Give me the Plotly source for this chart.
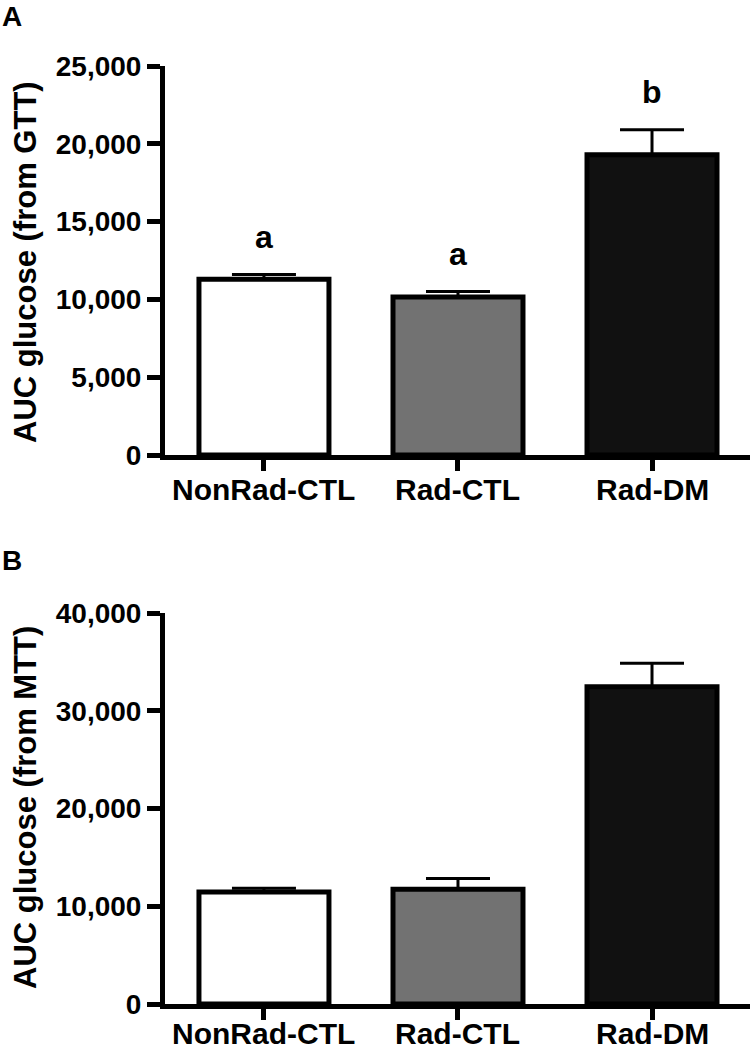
import plotly.graph_objects as go

categories = ["NonRad-CTL", "Rad-CTL", "Rad-DM"]
gtt_auc = [11300, 10150, 19300]
gtt_err = [300, 350, 1600]
gtt_letters = ["a", "a", "b"]
mtt_auc = [11450, 11750, 32450]
mtt_err = [380, 1100, 2400]
bar_colors = ["#ffffff", "#727272", "#111111"]
gtt_ticks = [0, 5000, 10000, 15000, 20000, 25000]
mtt_ticks = [0, 10000, 20000, 30000, 40000]

W, H = 752, 1050
L, R, T, B = 165, 2, 66, 46
PW, PH = W - L - R, H - T - B

def px_x(px):
    return (px - L) / PW

def px_y(py):
    return (H - B - py) / PH

FONT = "Liberation Sans, Arial, sans-serif"

fig = go.Figure()
for vals, errs, xa, ya in [(gtt_auc, gtt_err, "x", "y"), (mtt_auc, mtt_err, "x2", "y2")]:
    fig.add_trace(go.Bar(
        x=list(range(len(categories))), y=vals,
        width=0.67,
        marker=dict(color=bar_colors, line=dict(color="#000000", width=5)),
        error_y=dict(type="data", symmetric=False, array=errs,
                     arrayminus=[0] * len(errs), color="#000000",
                     thickness=3, width=32),
        xaxis=xa, yaxis=ya, showlegend=False,
    ))

axis_common = dict(showgrid=False, zeroline=False, showline=True, linecolor="#000000",
                   linewidth=5, ticks="outside", tickcolor="#000000", tickwidth=5,
                   ticklen=13, automargin=False)

xcommon = dict(axis_common, range=[-0.51, 2.505], tickmode="array",
               tickvals=list(range(len(categories))), showticklabels=False,
               ticklen=11)

yfont = dict(family=FONT, size=28, color="#000000", weight="bold")

fig.update_layout(
    width=W, height=H,
    margin=dict(l=L, r=R, t=T, b=B, autoexpand=False),
    paper_bgcolor="#ffffff", plot_bgcolor="#ffffff",
    xaxis=dict(xcommon, domain=[0, 1], anchor="y"),
    xaxis2=dict(xcommon, domain=[0, 1], anchor="y2"),
    yaxis=dict(axis_common, domain=[px_y(455), 1.0], range=[0, 25000],
               tickvals=gtt_ticks, tickformat=",", anchor="x", tickfont=yfont),
    yaxis2=dict(axis_common, domain=[0, px_y(613)], range=[0, 40000],
                tickvals=mtt_ticks, tickformat=",", anchor="x2", tickfont=yfont),
)

annotations = []
# category labels (x-axis)
for i, cat in enumerate(categories):
    for xref, py in [("x", 490), ("x2", 1033)]:
        annotations.append(dict(x=i, y=px_y(py), xref=xref, yref="paper",
                                text="<b>%s</b>" % cat, showarrow=False,
                                xanchor="center", yanchor="middle",
                                font=dict(family=FONT, size=30, color="#000000")))
# significance letters
for i, (lab, v, e) in enumerate(zip(gtt_letters, gtt_auc, gtt_err)):
    annotations.append(dict(x=i, y=v + e, xref="x", yref="y", text="<b>%s</b>" % lab,
                            showarrow=False, yanchor="bottom", yshift=18,
                            font=dict(family=FONT, size=32, color="#000000")))
# panel letters
for lab, py in [("A", 16), ("B", 560)]:
    annotations.append(dict(x=px_x(0), y=px_y(py), xref="paper", yref="paper",
                            text="<b>%s</b>" % lab, showarrow=False, xanchor="left",
                            yanchor="middle",
                            font=dict(family=FONT, size=28, color="#000000")))
# y titles
for txt, py in [("AUC glucose (from GTT)", 262), ("AUC glucose (from MTT)", 808)]:
    annotations.append(dict(x=px_x(25), y=px_y(py), xref="paper", yref="paper",
                            text="<b>%s</b>" % txt, showarrow=False, textangle=-90,
                            xanchor="center", yanchor="middle",
                            font=dict(family=FONT, size=31, color="#000000")))
fig.update_layout(annotations=annotations)

fig.write_html("out.html", config={"displayModeBar": False},
               post_script="document.body.style.margin='0';document.body.style.padding='0';")
